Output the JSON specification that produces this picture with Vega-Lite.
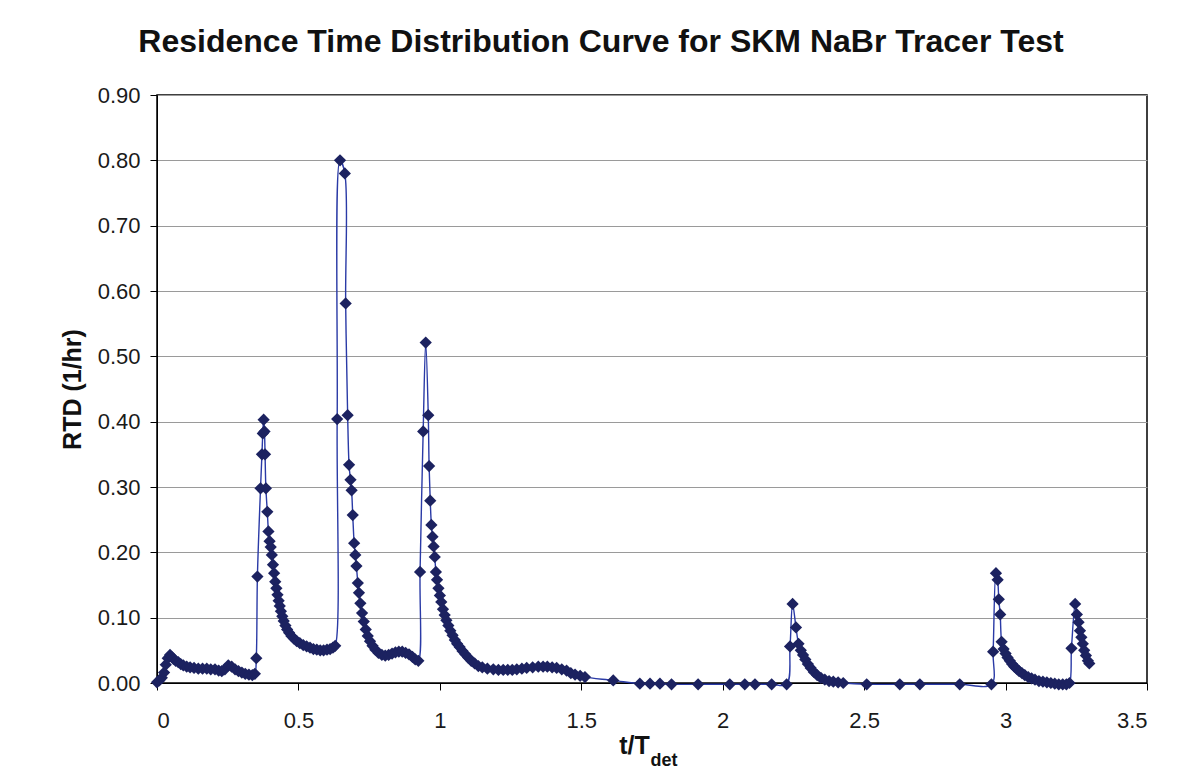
{
  "$schema": "https://vega.github.io/schema/vega-lite/v6.json",
  "width": 990,
  "height": 588,
  "autosize": "none",
  "padding": {"left": 157, "top": 95, "right": 33, "bottom": 100},
  "background": "white",
  "title": {
    "text": "Residence Time Distribution Curve for SKM NaBr Tracer Test",
    "font": "Liberation Sans",
    "fontSize": 32,
    "fontWeight": "bold",
    "color": "#111111",
    "anchor": "middle",
    "dx": -51,
    "offset": 25
  },
  "config": {
    "view": {"stroke": "#000000", "strokeWidth": 1.5},
    "axis": {
      "labelFont": "Liberation Sans",
      "titleFont": "Liberation Sans",
      "labelColor": "#1a1a1a",
      "titleColor": "#111111",
      "labelFontSize": 22,
      "titleFontWeight": "bold",
      "domainColor": "#000000",
      "tickColor": "#000000",
      "tickSize": 7
    }
  },
  "datasets": {
    "rtd": [
      {"t": 0.000, "rtd": 0.001}, {"t": 0.008, "rtd": 0.004}, {"t": 0.017, "rtd": 0.008}, {"t": 0.025, "rtd": 0.016},
      {"t": 0.031, "rtd": 0.028}, {"t": 0.038, "rtd": 0.038}, {"t": 0.046, "rtd": 0.043}, {"t": 0.052, "rtd": 0.040},
      {"t": 0.058, "rtd": 0.037}, {"t": 0.066, "rtd": 0.034}, {"t": 0.075, "rtd": 0.032}, {"t": 0.084, "rtd": 0.029},
      {"t": 0.093, "rtd": 0.027}, {"t": 0.105, "rtd": 0.025}, {"t": 0.117, "rtd": 0.024}, {"t": 0.131, "rtd": 0.023},
      {"t": 0.146, "rtd": 0.022}, {"t": 0.161, "rtd": 0.022}, {"t": 0.176, "rtd": 0.022}, {"t": 0.190, "rtd": 0.021},
      {"t": 0.205, "rtd": 0.021}, {"t": 0.218, "rtd": 0.019}, {"t": 0.229, "rtd": 0.018}, {"t": 0.240, "rtd": 0.021},
      {"t": 0.252, "rtd": 0.027}, {"t": 0.264, "rtd": 0.025}, {"t": 0.276, "rtd": 0.021}, {"t": 0.288, "rtd": 0.018},
      {"t": 0.300, "rtd": 0.016}, {"t": 0.312, "rtd": 0.014}, {"t": 0.325, "rtd": 0.013}, {"t": 0.337, "rtd": 0.012},
      {"t": 0.346, "rtd": 0.014}, {"t": 0.351, "rtd": 0.038}, {"t": 0.355, "rtd": 0.163}, {"t": 0.366, "rtd": 0.298},
      {"t": 0.371, "rtd": 0.350}, {"t": 0.374, "rtd": 0.382}, {"t": 0.377, "rtd": 0.403}, {"t": 0.380, "rtd": 0.385},
      {"t": 0.382, "rtd": 0.350}, {"t": 0.385, "rtd": 0.298}, {"t": 0.390, "rtd": 0.262}, {"t": 0.394, "rtd": 0.232},
      {"t": 0.398, "rtd": 0.217}, {"t": 0.402, "rtd": 0.208}, {"t": 0.406, "rtd": 0.196}, {"t": 0.410, "rtd": 0.181},
      {"t": 0.414, "rtd": 0.168}, {"t": 0.418, "rtd": 0.155}, {"t": 0.422, "rtd": 0.145}, {"t": 0.426, "rtd": 0.135},
      {"t": 0.430, "rtd": 0.126}, {"t": 0.434, "rtd": 0.118}, {"t": 0.438, "rtd": 0.110}, {"t": 0.443, "rtd": 0.102},
      {"t": 0.448, "rtd": 0.095}, {"t": 0.454, "rtd": 0.088}, {"t": 0.460, "rtd": 0.082}, {"t": 0.467, "rtd": 0.077},
      {"t": 0.475, "rtd": 0.072}, {"t": 0.484, "rtd": 0.068}, {"t": 0.494, "rtd": 0.064}, {"t": 0.505, "rtd": 0.061},
      {"t": 0.517, "rtd": 0.058}, {"t": 0.529, "rtd": 0.056}, {"t": 0.541, "rtd": 0.054}, {"t": 0.553, "rtd": 0.052},
      {"t": 0.565, "rtd": 0.051}, {"t": 0.577, "rtd": 0.050}, {"t": 0.589, "rtd": 0.050}, {"t": 0.601, "rtd": 0.051},
      {"t": 0.612, "rtd": 0.052}, {"t": 0.622, "rtd": 0.054}, {"t": 0.630, "rtd": 0.057}, {"t": 0.637, "rtd": 0.404},
      {"t": 0.647, "rtd": 0.800}, {"t": 0.664, "rtd": 0.780}, {"t": 0.667, "rtd": 0.581}, {"t": 0.674, "rtd": 0.410},
      {"t": 0.679, "rtd": 0.334}, {"t": 0.684, "rtd": 0.311}, {"t": 0.688, "rtd": 0.295}, {"t": 0.692, "rtd": 0.257},
      {"t": 0.697, "rtd": 0.214}, {"t": 0.701, "rtd": 0.196}, {"t": 0.705, "rtd": 0.179}, {"t": 0.710, "rtd": 0.153},
      {"t": 0.714, "rtd": 0.138}, {"t": 0.719, "rtd": 0.122}, {"t": 0.725, "rtd": 0.107}, {"t": 0.731, "rtd": 0.094},
      {"t": 0.738, "rtd": 0.082}, {"t": 0.745, "rtd": 0.072}, {"t": 0.753, "rtd": 0.064}, {"t": 0.762, "rtd": 0.057},
      {"t": 0.772, "rtd": 0.051}, {"t": 0.783, "rtd": 0.046}, {"t": 0.795, "rtd": 0.043}, {"t": 0.807, "rtd": 0.042},
      {"t": 0.819, "rtd": 0.043}, {"t": 0.831, "rtd": 0.045}, {"t": 0.843, "rtd": 0.047}, {"t": 0.855, "rtd": 0.048},
      {"t": 0.867, "rtd": 0.048}, {"t": 0.879, "rtd": 0.046}, {"t": 0.891, "rtd": 0.044}, {"t": 0.903, "rtd": 0.040},
      {"t": 0.913, "rtd": 0.036}, {"t": 0.924, "rtd": 0.034}, {"t": 0.930, "rtd": 0.170}, {"t": 0.941, "rtd": 0.385},
      {"t": 0.950, "rtd": 0.521}, {"t": 0.959, "rtd": 0.410}, {"t": 0.962, "rtd": 0.332}, {"t": 0.966, "rtd": 0.279},
      {"t": 0.970, "rtd": 0.242}, {"t": 0.974, "rtd": 0.224}, {"t": 0.978, "rtd": 0.209}, {"t": 0.982, "rtd": 0.193},
      {"t": 0.986, "rtd": 0.170}, {"t": 0.990, "rtd": 0.158}, {"t": 0.995, "rtd": 0.145}, {"t": 1.000, "rtd": 0.134},
      {"t": 1.005, "rtd": 0.124}, {"t": 1.011, "rtd": 0.113}, {"t": 1.017, "rtd": 0.104}, {"t": 1.023, "rtd": 0.096},
      {"t": 1.030, "rtd": 0.088}, {"t": 1.037, "rtd": 0.080}, {"t": 1.045, "rtd": 0.073}, {"t": 1.053, "rtd": 0.066},
      {"t": 1.061, "rtd": 0.060}, {"t": 1.070, "rtd": 0.055}, {"t": 1.080, "rtd": 0.049}, {"t": 1.090, "rtd": 0.044},
      {"t": 1.100, "rtd": 0.039}, {"t": 1.111, "rtd": 0.034}, {"t": 1.123, "rtd": 0.030}, {"t": 1.136, "rtd": 0.026},
      {"t": 1.150, "rtd": 0.024}, {"t": 1.168, "rtd": 0.022}, {"t": 1.189, "rtd": 0.021}, {"t": 1.207, "rtd": 0.020},
      {"t": 1.224, "rtd": 0.020}, {"t": 1.240, "rtd": 0.020}, {"t": 1.256, "rtd": 0.020}, {"t": 1.272, "rtd": 0.021},
      {"t": 1.290, "rtd": 0.022}, {"t": 1.307, "rtd": 0.023}, {"t": 1.328, "rtd": 0.024}, {"t": 1.348, "rtd": 0.025},
      {"t": 1.365, "rtd": 0.025}, {"t": 1.380, "rtd": 0.025}, {"t": 1.397, "rtd": 0.024}, {"t": 1.413, "rtd": 0.023},
      {"t": 1.431, "rtd": 0.021}, {"t": 1.448, "rtd": 0.019}, {"t": 1.463, "rtd": 0.015}, {"t": 1.478, "rtd": 0.013},
      {"t": 1.496, "rtd": 0.011}, {"t": 1.513, "rtd": 0.009}, {"t": 1.613, "rtd": 0.004}, {"t": 1.707, "rtd": -0.001},
      {"t": 1.743, "rtd": -0.001}, {"t": 1.778, "rtd": -0.001}, {"t": 1.819, "rtd": -0.002}, {"t": 1.913, "rtd": -0.002},
      {"t": 2.025, "rtd": -0.002}, {"t": 2.078, "rtd": -0.002}, {"t": 2.114, "rtd": -0.002}, {"t": 2.173, "rtd": -0.002},
      {"t": 2.226, "rtd": -0.002}, {"t": 2.238, "rtd": 0.056}, {"t": 2.247, "rtd": 0.121}, {"t": 2.259, "rtd": 0.085},
      {"t": 2.268, "rtd": 0.060}, {"t": 2.276, "rtd": 0.050}, {"t": 2.284, "rtd": 0.043}, {"t": 2.292, "rtd": 0.036},
      {"t": 2.301, "rtd": 0.029}, {"t": 2.311, "rtd": 0.023}, {"t": 2.322, "rtd": 0.017}, {"t": 2.334, "rtd": 0.012},
      {"t": 2.347, "rtd": 0.008}, {"t": 2.361, "rtd": 0.005}, {"t": 2.376, "rtd": 0.003}, {"t": 2.391, "rtd": 0.002},
      {"t": 2.408, "rtd": 0.001}, {"t": 2.426, "rtd": 0.000}, {"t": 2.509, "rtd": -0.002}, {"t": 2.626, "rtd": -0.002},
      {"t": 2.697, "rtd": -0.002}, {"t": 2.838, "rtd": -0.002}, {"t": 2.950, "rtd": -0.002}, {"t": 2.956, "rtd": 0.048},
      {"t": 2.966, "rtd": 0.168}, {"t": 2.972, "rtd": 0.158}, {"t": 2.976, "rtd": 0.128}, {"t": 2.981, "rtd": 0.105},
      {"t": 2.986, "rtd": 0.063}, {"t": 2.993, "rtd": 0.052}, {"t": 3.000, "rtd": 0.045}, {"t": 3.007, "rtd": 0.039},
      {"t": 3.015, "rtd": 0.034}, {"t": 3.023, "rtd": 0.029}, {"t": 3.031, "rtd": 0.025}, {"t": 3.039, "rtd": 0.022},
      {"t": 3.048, "rtd": 0.018}, {"t": 3.058, "rtd": 0.015}, {"t": 3.068, "rtd": 0.012}, {"t": 3.080, "rtd": 0.009},
      {"t": 3.092, "rtd": 0.007}, {"t": 3.104, "rtd": 0.005}, {"t": 3.118, "rtd": 0.003}, {"t": 3.132, "rtd": 0.002},
      {"t": 3.146, "rtd": 0.001}, {"t": 3.160, "rtd": 0.000}, {"t": 3.174, "rtd": -0.001}, {"t": 3.188, "rtd": -0.002},
      {"t": 3.202, "rtd": -0.002}, {"t": 3.215, "rtd": -0.002}, {"t": 3.226, "rtd": 0.000}, {"t": 3.233, "rtd": 0.053},
      {"t": 3.246, "rtd": 0.121}, {"t": 3.252, "rtd": 0.105}, {"t": 3.258, "rtd": 0.093}, {"t": 3.263, "rtd": 0.080},
      {"t": 3.268, "rtd": 0.070}, {"t": 3.273, "rtd": 0.060}, {"t": 3.278, "rtd": 0.050}, {"t": 3.284, "rtd": 0.042},
      {"t": 3.291, "rtd": 0.034}, {"t": 3.296, "rtd": 0.030}
    ],
    "sub": [{"label": "det"}]
  },
  "layer": [
    {
      "data": {"name": "rtd"},
      "mark": {"type": "line", "interpolate": "catmull-rom", "color": "#2a3aa6", "strokeWidth": 1.4},
      "encoding": {
        "x": {
          "field": "t", "type": "quantitative",
          "scale": {"domain": [0, 3.5], "nice": false, "zero": false},
          "axis": {
            "values": [0, 0.5, 1, 1.5, 2, 2.5, 3, 3.5],
            "format": "~f",
            "grid": false,
            "title": "t/T",
            "titleFontSize": 25,
            "titleX": 477,
            "labelPadding": 20,
            "titlePadding": 2
          }
        },
        "y": {
          "field": "rtd", "type": "quantitative",
          "scale": {"domain": [0, 0.9], "nice": false, "zero": false},
          "axis": {
            "values": [0, 0.1, 0.2, 0.3, 0.4, 0.5, 0.6, 0.7, 0.8, 0.9],
            "format": ".2f",
            "grid": true,
            "gridColor": "#9a9a9a",
            "gridWidth": 1,
            "title": "RTD (1/hr)",
            "titleFontSize": 25,
            "labelPadding": 10,
            "titlePadding": 12
          }
        }
      }
    },
    {
      "data": {"name": "rtd"},
      "mark": {"type": "point", "shape": "diamond", "filled": true, "size": 150, "color": "#1c2260", "opacity": 1},
      "encoding": {
        "x": {"field": "t", "type": "quantitative"},
        "y": {"field": "rtd", "type": "quantitative"}
      }
    },
    {
      "data": {"name": "sub"},
      "mark": {"type": "text", "font": "Liberation Sans", "fontSize": 18, "fontWeight": "bold", "color": "#111111", "align": "left", "baseline": "middle"},
      "encoding": {
        "x": {"datum": 1.745},
        "y": {"datum": -0.12},
        "text": {"field": "label"}
      }
    }
  ]
}
